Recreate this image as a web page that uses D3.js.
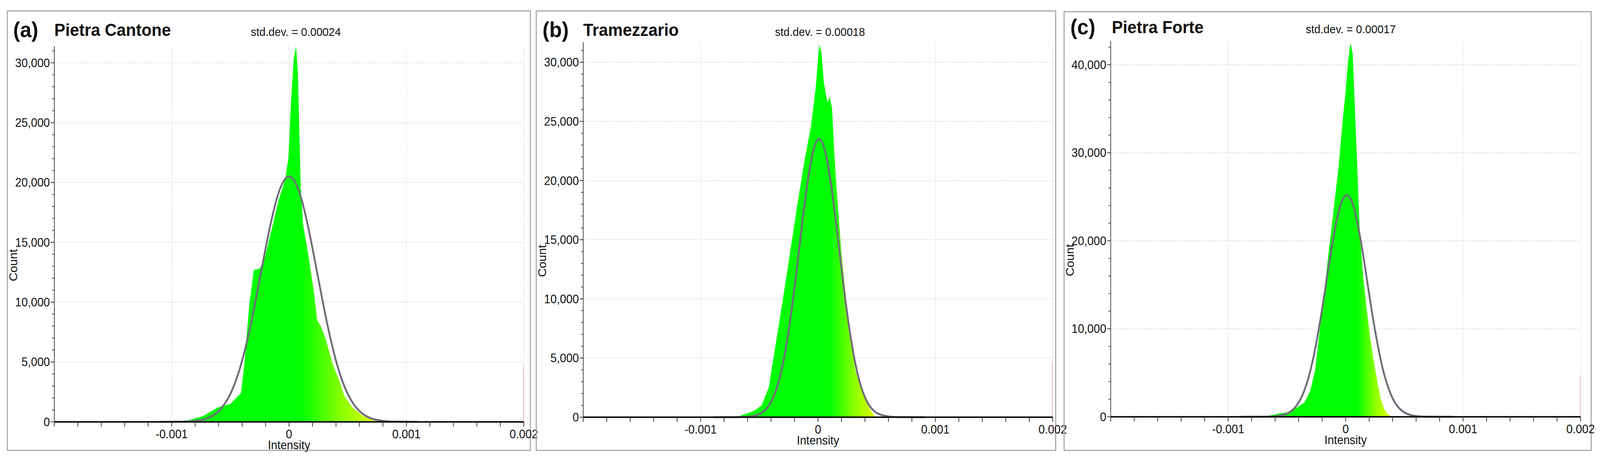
<!DOCTYPE html>
<html><head><meta charset="utf-8">
<script src="https://cdn.jsdelivr.net/npm/d3@7"></script>
<style>html,body{margin:0;padding:0;background:#fff;overflow:hidden}svg{display:block;width:100vw;height:100vh}text{font-family:"Liberation Sans",Arial,sans-serif}</style>
</head><body><svg id="c" viewBox="0 0 4359 1171" preserveAspectRatio="none"></svg>
<script>
// ---- data ----
const panelLetters = ["(a)", "(b)", "(c)"];
const panelNames = ["Pietra Cantone", "Tramezzario", "Pietra Forte"];
const stdDevLabels = ["std.dev. = 0.00024", "std.dev. = 0.00018", "std.dev. = 0.00017"];
const xTickValues = [-0.001, 0, 0.001, 0.002];
const xTickLabels = ["-0.001", "0", "0.001", "0.002"];
const yMax = [31400, 31700, 42700];
const yMajorStep = [5000, 5000, 10000];
const yMinorStep = [1000, 1000, 2000];

const histA_x = [-0.001,-0.00085,-0.00073,-0.00061,-0.0005,-0.00041,-0.00038,-0.00034,-0.0003,-0.00025,-0.00021,-0.00015,-0.00009,-0.000035,-0.000006,0.000017,0.00004,0.00006,0.000075,0.0001,0.00012,0.00017,0.00021,0.00024,0.00027,0.00031,0.00037,0.00043,0.00047,0.00054,0.00063,0.00072,0.0008];
const histA_y = [0,150,500,1200,1500,2400,4900,9700,12700,12800,13600,16000,18500,20200,22000,26800,30400,31400,29200,19500,16500,13600,11000,8500,8000,7000,4900,3400,2200,1200,500,120,0];
const histB_x = [-0.0007,-0.00055,-0.00048,-0.00042,-0.00036,-0.0003,-0.00024,-0.00018,-0.00012,-0.00006,-0.00002,0.00001,0.00003,0.00005,0.00008,0.0001,0.00012,0.00014,0.00016,0.0002,0.00024,0.00028,0.00032,0.00036,0.0004,0.00044,0.00048,0.00052];
const histB_y = [0,500,1000,2500,6200,9900,13800,17700,21400,24600,27800,31500,30800,28300,26600,27100,26100,22200,19200,13800,9900,6400,3900,2700,1500,740,120,0];
const histC_x = [-0.0007,-0.00058,-0.0005,-0.00042,-0.00035,-0.0003,-0.00026,-0.00022,-0.00018,-0.00014,-0.0001,-0.00006,-0.00003,0,0.00002,0.00004,0.00006,0.00008,0.0001,0.00012,0.00015,0.00018,0.00021,0.00024,0.00027,0.0003,0.00033,0.00036,0.0004];
const histC_y = [0,330,500,1000,1650,3000,5300,9900,14500,19200,23800,28400,33000,37000,40300,42500,41300,34700,28100,21200,15900,12200,8900,6300,4000,2000,830,260,0];

const fitA_x = [-0.0011,-0.0009,-0.0008,-0.0007,-0.0006,-0.0005,-0.0004,-0.0003,-0.0002,-0.0001,0,0.0001,0.0002,0.0003,0.0004,0.0005,0.0006,0.0007,0.0008,0.0009,0.0011];
const fitA_y = [0,15,80,290,900,2340,5110,9390,14490,18800,20500,18800,14490,9390,5110,2340,900,290,80,15,0];
const fitB_x = [-0.00089,-0.00069,-0.00059,-0.00049,-0.00039,-0.00029,-0.00019,-0.00009,0.00001,0.00011,0.00021,0.00031,0.00041,0.00051,0.00061,0.00071,0.00091];
const fitB_y = [0,5,46,311,1475,4950,11760,19770,23500,19770,11760,4950,1475,311,46,5,0];
const fitC_x = [-0.00089,-0.00069,-0.00059,-0.00049,-0.00039,-0.00029,-0.00019,-0.00009,0.00001,0.00011,0.00021,0.00031,0.00041,0.00051,0.00061,0.00071,0.00091];
const fitC_y = [0,8,70,425,1850,5800,13110,21400,25200,21400,13110,5800,1850,425,70,8,0];

const histX = [histA_x, histB_x, histC_x], histY = [histA_y, histB_y, histC_y];
const fitX = [fitA_x, fitB_x, fitC_x], fitY = [fitA_y, fitB_y, fitC_y];

// ---- layout ----
const layout = [
  {box:[20,28,1445,1154], x0:148, x1:1427, y0:1081, yTopPx:118, letterX:36, nameX:148, stdX:806, titleY:95},
  {box:[1461,28,2876,1154], x0:1589, x1:2868, y0:1069, yTopPx:108, letterX:1478, nameX:1589, stdX:2234, titleY:95},
  {box:[2899,30,4335,1154], x0:3026, x1:4306, y0:1068, yTopPx:105, letterX:2916, nameX:3029, stdX:3680, titleY:88}
];

const svg = d3.select("#c");
const defs = svg.append("defs");

layout.forEach((L, i) => {
  const g = svg.append("g");
  const [bx0, by0, bx1, by1] = L.box;
  g.append("rect").attr("x", bx0).attr("y", by0).attr("width", bx1-bx0).attr("height", by1-by0)
    .attr("fill", "none").attr("stroke", "#a8a8a8").attr("stroke-width", 3);

  const x = d3.scaleLinear().domain([-0.002, 0.002]).range([L.x0, L.x1]);
  const y = d3.scaleLinear().domain([0, yMax[i]]).range([L.y0, L.yTopPx]);

  const yMajors = d3.range(yMajorStep[i], yMax[i], yMajorStep[i]);
  g.selectAll(".hg").data(yMajors).join("line")
    .attr("x1", L.x0).attr("x2", L.x1).attr("y1", d => y(d)).attr("y2", d => y(d))
    .attr("stroke", "#cfcfcf").attr("stroke-width", 2).attr("stroke-dasharray", "2,3");
  g.selectAll(".vg").data(xTickValues).join("line")
    .attr("x1", d => x(d)).attr("x2", d => x(d)).attr("y1", L.y0).attr("y2", L.yTopPx)
    .attr("stroke", "#cfcfcf").attr("stroke-width", 2).attr("stroke-dasharray", "2,3");

  const hx = histX[i], hy = histY[i];
  const gid = "grad" + i;
  const grad = defs.append("linearGradient").attr("id", gid).attr("gradientUnits", "userSpaceOnUse")
    .attr("x1", x(0.0001)).attr("x2", x(hx[hx.length-1])).attr("y1", 0).attr("y2", 0);
  grad.append("stop").attr("offset", 0).attr("stop-color", "#00ff00");
  grad.append("stop").attr("offset", 0.5).attr("stop-color", "#8cff00");
  grad.append("stop").attr("offset", 1).attr("stop-color", "#f0ff00");

  const pts = hx.map((v, k) => [v, hy[k]]);
  g.append("path").datum(pts)
    .attr("d", d3.area().x(d => x(d[0])).y0(L.y0).y1(d => y(d[1])))
    .attr("fill", `url(#${gid})`);

  g.append("line").attr("x1", x(0.002)-1).attr("x2", x(0.002)-1).attr("y1", L.y0).attr("y2", y(4700))
    .attr("stroke", "#f3b8c0").attr("stroke-width", 2);

  const fp = fitX[i].map((v, k) => [v, fitY[i][k]]);
  g.append("path").datum(fp)
    .attr("d", d3.line().x(d => x(d[0])).y(d => y(d[1])).curve(d3.curveNatural))
    .attr("fill", "none").attr("stroke", "#6e6e78").attr("stroke-width", 5);

  const yAxis = g.append("g").attr("transform", `translate(${L.x0},0)`);
  yAxis.append("line").attr("y1", L.y0).attr("y2", L.yTopPx).attr("stroke", "#444").attr("stroke-width", 2);
  yAxis.selectAll(".ym").data(d3.range(0, yMax[i], yMinorStep[i])).join("line")
    .attr("x1", -6).attr("x2", 0).attr("y1", d => y(d)).attr("y2", d => y(d)).attr("stroke", "#444").attr("stroke-width", 2);
  yAxis.selectAll(".yM").data(d3.range(0, yMax[i], yMajorStep[i])).join("line")
    .attr("x1", -10).attr("x2", 0).attr("y1", d => y(d)).attr("y2", d => y(d)).attr("stroke", "#444").attr("stroke-width", 2);
  yAxis.selectAll(".yl").data(d3.range(0, yMax[i], yMajorStep[i])).join("text")
    .attr("x", -12).attr("y", d => y(d)).attr("dy", "0.35em").attr("text-anchor", "end")
    .attr("font-size", 31).attr("fill", "#111")
    .text(d => d3.format(",")(d));

  const xAxis = g.append("g").attr("transform", `translate(0,${L.y0})`);
  xAxis.append("line").attr("x1", L.x0).attr("x2", L.x1).attr("stroke", "#111").attr("stroke-width", 4);
  xAxis.selectAll(".xm").data(d3.range(-0.002, 0.00201, 0.0002)).join("line")
    .attr("x1", d => x(d)).attr("x2", d => x(d)).attr("y1", 0).attr("y2", 12).attr("stroke", "#333").attr("stroke-width", 2);
  xAxis.selectAll(".xl").data(xTickValues).join("text")
    .attr("x", d => x(d)).attr("y", 42).attr("text-anchor", "middle").attr("font-size", 31).attr("fill", "#111")
    .text((d, k) => xTickLabels[k]);
  xAxis.append("text").attr("x", x(0)).attr("y", 70).attr("text-anchor", "middle").attr("font-size", 31).attr("fill", "#111").text("Intensity");

  g.append("text").attr("transform", `translate(${L.box[0]+27},${(L.y0+L.yTopPx)/2 + 80}) rotate(-90)`)
    .attr("text-anchor", "middle").attr("font-size", 31).attr("fill", "#111").text("Count");

  g.append("text").attr("x", L.letterX).attr("y", L.titleY).attr("font-size", 56).attr("font-weight", "bold").attr("fill", "#111").text(panelLetters[i]);
  g.append("text").attr("x", L.nameX).attr("y", L.titleY - 3).attr("font-size", 45).attr("font-weight", "bold").attr("fill", "#111").text(panelNames[i]);
  g.append("text").attr("x", L.stdX).attr("y", L.titleY - 3).attr("text-anchor", "middle").attr("font-size", 30).attr("fill", "#111").text(stdDevLabels[i]);
});
</script></body></html>
